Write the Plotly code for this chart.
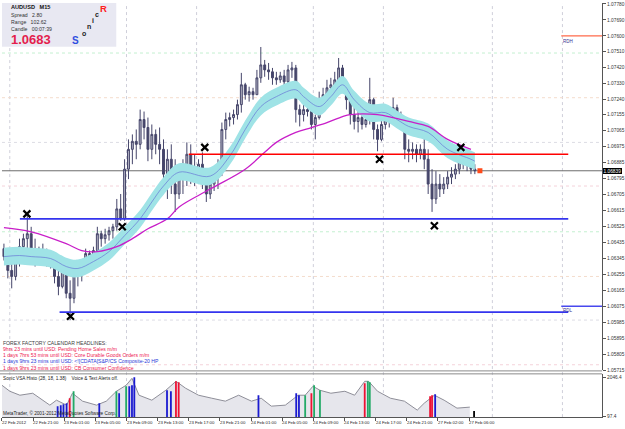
import numpy as np
import plotly.graph_objects as go

# ---------------- data ----------------
OPEN = [1.06400,1.06355,1.06277,1.06243,1.06333,1.06411,1.06456,1.06484,1.06400,1.06355,
        1.06389,1.06372,1.06333,1.06355,1.06243,1.06187,1.06277,1.06148,1.06120,1.06260,
        1.06277,1.06299,1.06372,1.06333,1.06389,1.06484,1.06456,1.06478,1.06501,1.06523,
        1.06624,1.06568,1.06848,1.06960,1.07005,1.06988,1.07128,1.07083,1.06960,1.07044,
        1.06988,1.06960,1.06820,1.06904,1.06764,1.06708,1.06803,1.06848,1.06932,1.06859,
        1.06837,1.06876,1.06792,1.06708,1.06764,1.06803,1.06848,1.07072,1.07128,1.07139,
        1.07156,1.07212,1.07324,1.07268,1.07285,1.07268,1.07363,1.07436,1.07408,1.07397,
        1.07363,1.07352,1.07374,1.07341,1.07408,1.07419,1.07184,1.07156,1.07184,1.07173,
        1.07100,1.07139,1.07240,1.07268,1.07307,1.07324,1.07352,1.07419,1.07324,1.07240,
        1.07156,1.07117,1.07139,1.07100,1.07128,1.07240,1.07072,1.07016,1.07100,1.07128,
        1.07139,1.07195,1.07139,1.07100,1.06960,1.06949,1.06960,1.06932,1.06960,1.06904,
        1.06764,1.06680,1.06764,1.06736,1.06764,1.06803,1.06820,1.06848,1.06904,1.06876,
        1.06893,1.06848]
HIGH = [1.06428,1.06400,1.06333,1.06372,1.06456,1.06484,1.06585,1.06523,1.06456,1.06411,
        1.06428,1.06400,1.06389,1.06372,1.06333,1.06316,1.06288,1.06221,1.06299,1.06316,
        1.06333,1.06400,1.06389,1.06411,1.06523,1.06501,1.06512,1.06523,1.06540,1.06680,
        1.06708,1.06904,1.07016,1.07044,1.07072,1.07184,1.07173,1.07139,1.07100,1.07072,
        1.07083,1.07016,1.06960,1.06988,1.06904,1.06876,1.06904,1.06999,1.06988,1.06932,
        1.06904,1.06943,1.06820,1.06803,1.06848,1.06904,1.07111,1.07167,1.07167,1.07184,
        1.07240,1.07391,1.07335,1.07313,1.07307,1.07408,1.07537,1.07464,1.07447,1.07419,
        1.07397,1.07397,1.07408,1.07436,1.07453,1.07436,1.07212,1.07212,1.07212,1.07184,
        1.07156,1.07285,1.07307,1.07352,1.07363,1.07397,1.07475,1.07436,1.07341,1.07268,
        1.07212,1.07195,1.07184,1.07173,1.07363,1.07251,1.07100,1.07145,1.07156,1.07173,
        1.07251,1.07212,1.07173,1.07128,1.07016,1.06999,1.06988,1.06988,1.07089,1.06960,
        1.06848,1.06837,1.06820,1.06803,1.06837,1.06859,1.06876,1.06949,1.06932,1.06915,
        1.06904,1.06876]
LOW = [1.06333,1.06232,1.06176,1.06221,1.06299,1.06333,1.06355,1.06372,1.06299,1.06316,
       1.06333,1.06299,1.06288,1.06204,1.06137,1.06176,1.06120,1.05997,1.06092,1.06187,
       1.06215,1.06288,1.06299,1.06316,1.06372,1.06411,1.06428,1.06445,1.06456,1.06501,
       1.06557,1.06557,1.06792,1.06876,1.06904,1.06960,1.07016,1.06893,1.06904,1.06932,
       1.06876,1.06736,1.06680,1.06708,1.06607,1.06680,1.06708,1.06753,1.06764,1.06753,
       1.06764,1.06736,1.06663,1.06680,1.06725,1.06736,1.06809,1.07016,1.07089,1.07100,
       1.07128,1.07167,1.07240,1.07229,1.07240,1.07268,1.07335,1.07369,1.07352,1.07324,
       1.07324,1.07335,1.07307,1.07324,1.07363,1.07111,1.07089,1.07117,1.07145,1.07072,
       1.07016,1.07128,1.07195,1.07240,1.07251,1.07285,1.07324,1.07285,1.07184,1.07100,
       1.07072,1.07055,1.07072,1.07083,1.07100,1.07016,1.06949,1.07005,1.07072,1.07083,
       1.07117,1.07100,1.07072,1.06904,1.06887,1.06904,1.06887,1.06904,1.06848,1.06708,
       1.06607,1.06652,1.06691,1.06708,1.06736,1.06764,1.06792,1.06820,1.06848,1.06837,
       1.06820,1.06820]
CLOSE = [1.06355,1.06277,1.06243,1.06333,1.06411,1.06456,1.06484,1.06400,1.06355,1.06389,
         1.06372,1.06333,1.06355,1.06243,1.06187,1.06277,1.06148,1.06120,1.06260,1.06277,
         1.06299,1.06372,1.06333,1.06389,1.06484,1.06456,1.06478,1.06501,1.06523,1.06624,
         1.06568,1.06848,1.06960,1.07005,1.06988,1.07128,1.07083,1.06960,1.07044,1.06988,
         1.06960,1.06820,1.06904,1.06764,1.06708,1.06803,1.06848,1.06932,1.06859,1.06837,
         1.06876,1.06792,1.06708,1.06764,1.06803,1.06848,1.07072,1.07128,1.07139,1.07156,
         1.07212,1.07324,1.07268,1.07285,1.07268,1.07363,1.07436,1.07408,1.07397,1.07363,
         1.07352,1.07374,1.07341,1.07408,1.07419,1.07184,1.07156,1.07184,1.07173,1.07100,
         1.07139,1.07240,1.07268,1.07307,1.07324,1.07352,1.07419,1.07324,1.07240,1.07156,
         1.07117,1.07139,1.07100,1.07128,1.07240,1.07072,1.07016,1.07100,1.07128,1.07139,
         1.07195,1.07139,1.07100,1.06960,1.06949,1.06960,1.06932,1.06960,1.06904,1.06764,
         1.06680,1.06764,1.06736,1.06764,1.06803,1.06820,1.06848,1.06904,1.06876,1.06893,
         1.06848,1.06839]

# fast MA (with envelope band) and slow MA, sampled at bar indices
MA_FAST_K = [0,4,7,12,16,19,23,27,31,35,38,41,45,53,58,62,66,70,75,77,81,84,87,90,94,98,101,104,109,114,120,121]
MA_FAST = [1.06355,1.06361,1.06355,1.06344,1.06299,1.06288,1.06327,1.06383,1.06473,1.06568,
           1.06663,1.06753,1.06831,1.06809,1.06921,1.07072,1.07201,1.07257,1.07296,1.07257,
           1.07201,1.07257,1.07324,1.07240,1.07167,1.07167,1.07128,1.07089,1.07055,1.06960,
           1.06904,1.06893]
BAND_HALF = 0.00050
MA_SLOW_K = [0,7,16,20,24,29,33,37,42,45,53,62,67,70,75,79,83,87,89,96,100,104,109,114,120]
MA_SLOW = [1.06518,1.06495,1.06428,1.06389,1.06383,1.06411,1.06456,1.06512,1.06568,1.06635,
           1.06736,1.06848,1.06943,1.06999,1.07055,1.07083,1.07111,1.07145,1.07156,1.07156,
           1.07139,1.07117,1.07089,1.07016,1.06960]

# swing marks (x = bar position, price)
SWING_X = [6.4, 17.6, 30.9, 52.1, 97.0, 111.1, 117.9]
SWING_P = [1.06596, 1.06019, 1.06523, 1.06971, 1.06904, 1.06529, 1.06971]

BID = 1.06839
LAST_MARK_X = 122.8

# level lines: price, start bar, end bar
LEVEL_P = [1.06932, 1.06568, 1.06042, 1.07600, 1.06075]
LEVEL_X0 = [48.0, 4.6, 14.8, 143.7, 143.7]
LEVEL_X1 = [145.5, 145.5, 145.5, 154.2, 154.2]
FAINT_P = [1.07503, 1.06495, 1.07251, 1.06243, 1.06999, 1.05997, 1.06753, 1.05745]
SESSION_X = [2, 32, 50, 80, 98, 126, 144]

PRICE_TICKS = [1.07780,1.07690,1.07600,1.07510,1.07420,1.07330,1.07240,1.07155,1.07065,1.06975,
               1.06885,1.06795,1.06705,1.06615,1.06525,1.06435,1.06345,1.06255,1.06165,1.06075,
               1.05985,1.05895,1.05805,1.05715]

TIME_POS = [0,8,16,24,32,40,48,56,64,72,80,88,96,104,112,120]
TIME_LABELS = ["22 Feb 2012","22 Feb 21:00","23 Feb 01:00","23 Feb 05:00","23 Feb 09:00",
               "23 Feb 13:00","23 Feb 17:00","23 Feb 21:00","24 Feb 01:00","24 Feb 05:00",
               "24 Feb 09:00","24 Feb 13:00","24 Feb 17:00","24 Feb 21:00","27 Feb 02:00",
               "27 Feb 06:00"]

# volume (VSA histo) outline and coloured bars
VOL_X = [0,2.0,4.6,7.9,12.3,14.0,16.6,18.1,20.7,24.3,26.8,29.4,31.9,33.4,35.2,38.5,42.1,44.7,47.2,50.5,
         53.9,57.4,60.8,64.1,66.6,69.2,72.8,76.1,77.9,79.9,81.7,84.5,88.1,90.6,93.2,94.2,96.5,99.8,103.4,106.7,
         108.5,111.1,113.6,116.9,120.2]
VOL_V = [1647,1347,1147,1247,647,897,647,1247,847,647,847,1347,1647,1997,1147,897,1397,1847,1497,1147,
         997,847,1147,847,997,597,647,1147,1147,1597,1397,1247,1347,1147,1847,1847,1347,997,847,397,
         747,1147,897,497,547]
VSA_X = [14.3,15.1,15.8,16.6,17.4,18.4,25.0,29.4,30.1,31.9,32.7,33.4,34.0,42.4,43.4,44.7,45.4,65.9,
         75.6,76.3,77.9,79.5,80.2,81.7,93.2,94.0,94.5,110.0,110.5,111.3,121.3]
VSA_V = [597,647,697,747,997,1347,747,1347,1247,1597,1597,1647,2046,1397,1347,1847,1797,1147,
         1247,1147,1147,1247,1647,1397,1747,1847,1797,1097,1147,1197,347]
VSA_C = ['b','b','b','b','r','g','b','g','b','g','b','b','b','b','b','r','r','b',
         'b','b','g','r','g','g','r','g','g','r','r','b','k']
VSA_TICKS = [2046.4, 97.4]

CAL_LINES = ["FOREX FACTORY CALENDAR HEADLINES:",
             "9hrs 23 mins until USD: Pending Home Sales m/m",
             "1 days 7hrs 53 mins until USD: Core Durable Goods Orders m/m",
             "1 days 9hrs 23 mins until USD: &lt;![CDATA[S&amp;P/CS Composite-20 HP",
             "1 days 9hrs 23 mins until USD: CB Consumer Confidence"]

# ---------------- figure ----------------
W, H = 625, 429
FONT = "Liberation Sans"
def py(p):  # pixel row -> paper
    return 1 - p / H
def pxp(p):
    return p / W

fig = go.Figure()

fk = np.array(MA_FAST_K) + 0.5
fast = np.array(MA_FAST)
fig.add_trace(go.Scatter(x=fk, y=fast + BAND_HALF, mode='lines', line=dict(width=0, shape='spline'),
                         hoverinfo='skip', showlegend=False))
fig.add_trace(go.Scatter(x=fk, y=fast - BAND_HALF, mode='lines', line=dict(width=0, shape='spline'),
                         fill='tonexty', fillcolor='#9fe3e6', hoverinfo='skip', showlegend=False))

xc = np.arange(len(OPEN)) + 0.5
fig.add_trace(go.Candlestick(x=xc, open=OPEN, high=HIGH, low=LOW, close=CLOSE,
                             increasing=dict(line=dict(color='#45456a', width=1), fillcolor='#b4b4c4'),
                             decreasing=dict(line=dict(color='#45456a', width=1), fillcolor='#45456a'),
                             whiskerwidth=0, hoverinfo='skip', showlegend=False))

fig.add_trace(go.Scatter(x=fk, y=fast, mode='lines', line=dict(width=0.8, color='#6f84d8', shape='spline'),
                         hoverinfo='skip', showlegend=False))
fig.add_trace(go.Scatter(x=np.array(MA_SLOW_K) + 0.5, y=MA_SLOW, mode='lines',
                         line=dict(width=1.3, color='#c81ec8', shape='spline'),
                         hoverinfo='skip', showlegend=False))

fig.add_trace(go.Scatter(x=SWING_X, y=SWING_P, mode='markers',
                         marker=dict(symbol='x-thin', size=7, line=dict(width=2.2, color='black')),
                         hoverinfo='skip', showlegend=False))
fig.add_trace(go.Scatter(x=[LAST_MARK_X], y=[BID], mode='markers',
                         marker=dict(symbol='square', size=5, color='#ff4a1a'),
                         hoverinfo='skip', showlegend=False))

# volume subwindow
fig.add_trace(go.Scatter(x=VOL_X, y=VOL_V, mode='lines', line=dict(width=1, color='#8e8e98'),
                         fill='tozeroy', fillcolor='#e6e6ec', xaxis='x2', yaxis='y2',
                         hoverinfo='skip', showlegend=False))
cmap = {'b': '#1a1ad0', 'r': '#ee1133', 'g': '#22aa66', 'k': '#000000'}
for key, col in cmap.items():
    xs, ys = [], []
    for x, v, c in zip(VSA_X, VSA_V, VSA_C):
        if c == key:
            xs += [x, x, None]
            ys += [0, v, None]
    fig.add_trace(go.Scatter(x=xs, y=ys, mode='lines', line=dict(width=1.8, color=col),
                             xaxis='x2', yaxis='y2', hoverinfo='skip', showlegend=False))

shapes = []
for sx in SESSION_X:
    shapes.append(dict(type='line', xref='x', yref='paper', x0=sx, x1=sx, y0=py(419), y1=py(2),
                       line=dict(color='#cfcfda', width=1, dash='dot'), layer='below'))
faint_cols = ['#c4f0d0', '#c4f0d0', '#f4dccc', '#f4dccc', '#dcdce4', '#dcdce4', '#f4d2da', '#f4d2da']
for p, c in zip(FAINT_P, faint_cols):
    shapes.append(dict(type='line', xref='paper', yref='y', x0=pxp(2), x1=pxp(606), y0=p, y1=p,
                       line=dict(color=c, width=1, dash='dot'), layer='below'))
shapes.append(dict(type='line', xref='paper', yref='y', x0=pxp(2), x1=pxp(606), y0=BID, y1=BID,
                   line=dict(color='#6c6c6c', width=1), layer='below'))
lvl_cols = ['#ff0000', '#3434ee', '#3434ee', '#ff6a4a', '#4848ee']
lvl_w = [1.6, 1.6, 1.6, 1.4, 1.4]
for p, a, b, c, w in zip(LEVEL_P, LEVEL_X0, LEVEL_X1, lvl_cols, lvl_w):
    shapes.append(dict(type='line', xref='x', yref='y', x0=a, x1=b, y0=p, y1=p,
                       line=dict(color=c, width=w), layer='above'))
# panel separator
for yy in (372.5, 375.5):
    shapes.append(dict(type='line', xref='paper', yref='paper', x0=0, x1=pxp(606), y0=py(yy), y1=py(yy),
                       line=dict(color='#8a8a8a', width=1)))
# info box
shapes.append(dict(type='rect', xref='paper', yref='paper', x0=pxp(2), x1=pxp(117), y0=py(46), y1=py(2),
                   fillcolor='#e8e8f2', line=dict(width=0), layer='above'))

def ann(text, x, y, size, color, xanchor='left', **kw):
    fig.add_annotation(text=text, x=pxp(x), y=py(y), xref='paper', yref='paper', xanchor=xanchor,
                       yanchor='middle', showarrow=False, borderpad=0, borderwidth=0,
                       font=dict(size=size, color=color, family=FONT), **kw)

ann("<b>AUDUSD   M15</b>", 11, 6, 5.6, '#111111')
ann("Spread   2.80", 11, 14, 5.2, '#333333')
ann("Range   102.62", 11, 21, 5.2, '#333333')
ann("Candle   00:07:39", 11, 28, 5.2, '#333333')
ann("<b>1.0683</b>", 11, 39, 13, '#e41e4c')
ann("<b>S</b>", 72, 40, 10, '#2f4fe0')
ann("<b>o</b>", 83, 33, 7, '#222222')
ann("<b>n</b>", 88, 26, 7, '#222222')
ann("<b>i</b>", 93, 20, 7, '#222222')
ann("<b>c</b>", 96, 14, 7, '#222222')
ann("<b>R</b>", 101, 8, 9.5, '#ff2020')

cal_cols = ['#404040', '#ee2050', '#ee2050', '#2a3ad8', '#ee2050']
for i, (t, c) in enumerate(zip(CAL_LINES, cal_cols)):
    ann(t, 3, 344 + i * 6.3, 5.1, c)

ann("Sonic VSA Histo (28, 18, 1.38)    Voice &amp; Text Alerts off.", 3, 380, 4.7, '#222222')
ann("MetaTrader, © 2001-2012 MetaQuotes Software Corp.", 3, 415, 4.7, '#222222')
ann("RDH", 567, 41, 4.5, '#303090')
ann("RDL", 567, 312, 4.5, '#303090')

for pos, lab in zip(TIME_POS, TIME_LABELS):
    fig.add_annotation(text=lab, x=pos, xref='x', y=py(424), yref='paper', xanchor='left',
                       yanchor='middle', showarrow=False, borderpad=0, borderwidth=0,
                       font=dict(size=4.3, color='#222222', family=FONT))

fig.add_annotation(text="1.06839", x=pxp(607), xref='paper', y=BID, yref='y', xanchor='left',
                   yanchor='middle', showarrow=False, borderpad=0.5, borderwidth=0, bgcolor='#000000',
                   font=dict(size=4.8, color='#ffffff', family=FONT))

xr = [0, 154.2]
fig.update_layout(
    width=W, height=H, margin=dict(l=0, r=0, t=0, b=0),
    paper_bgcolor='white', plot_bgcolor='white', showlegend=False,
    shapes=shapes,
    xaxis=dict(domain=[pxp(2), pxp(606)], range=xr, showticklabels=False, showgrid=False,
               zeroline=False, ticks='', anchor='y', rangeslider=dict(visible=False), fixedrange=True),
    yaxis=dict(domain=[py(372), py(2)], range=[1.057132, 1.077852], side='right', anchor='x',
               tickvals=PRICE_TICKS, ticktext=[f"{v:.5f}" for v in PRICE_TICKS],
               ticks='outside', ticklen=3, tickcolor='#555555', showline=True, linecolor='#555555',
               linewidth=1, showgrid=False, zeroline=False,
               tickfont=dict(size=4.8, color='#333333', family=FONT)),
    xaxis2=dict(domain=[pxp(2), pxp(606)], range=xr, anchor='y2', tickvals=TIME_POS,
                showticklabels=False, ticks='outside', ticklen=3, tickcolor='#555555',
                showline=True, linecolor='#555555', linewidth=1, showgrid=False, zeroline=False),
    yaxis2=dict(domain=[py(419), py(376)], range=[47, 2196], side='right', anchor='x2',
                tickvals=VSA_TICKS, ticktext=['2046.4', '97.4'], ticks='outside', ticklen=3,
                tickcolor='#555555', showline=True, linecolor='#555555', linewidth=1,
                showgrid=False, zeroline=False, tickfont=dict(size=4.8, color='#333333', family=FONT)),
)

fig.write_html("out.html")
